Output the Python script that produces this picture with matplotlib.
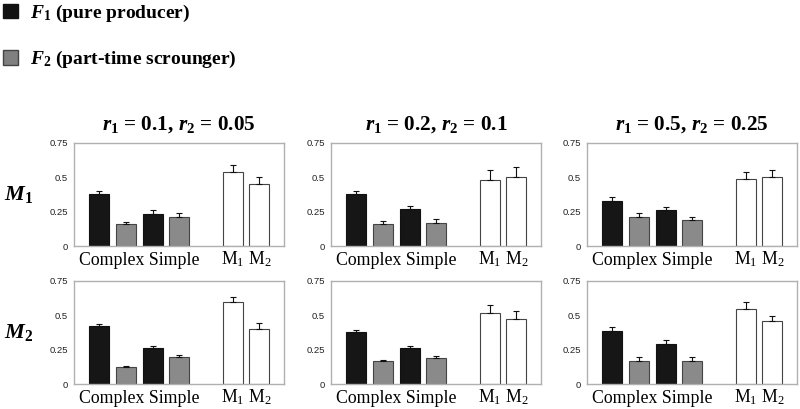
import matplotlib
matplotlib.use('Agg')
import matplotlib.pyplot as plt
from matplotlib.patches import Patch

# mathtext: letras en negrita cursiva, numeros en negrita (estilo del articulo)
plt.rcParams['mathtext.fontset'] = 'custom'
plt.rcParams['mathtext.it'] = 'Liberation Serif:italic:bold'
plt.rcParams['mathtext.rm'] = 'Liberation Serif:bold'
plt.rcParams['mathtext.bf'] = 'Liberation Serif:bold'

# columnas: valores de r1, r2
titulos = [r'$r_1$ = 0.1, $r_2$ = 0.05',
           r'$r_1$ = 0.2, $r_2$ = 0.1',
           r'$r_1$ = 0.5, $r_2$ = 0.25']
filas = [r'$M_1$', r'$M_2$']

# barras: F1 complex, F2 complex, F1 simple, F2 simple, M1, M2
posiciones = [1, 2, 3, 4, 6, 7]
colores = ['#161616', '#8a8a8a', '#161616', '#8a8a8a', 'white', 'white']
bordes = ['#111111', '#444444', '#111111', '#444444', '#444444', '#444444']

etiquetas_x = ['Complex Simple', r'$\mathregular{M_1\ M_2}$']
pos_etiquetas = [2.5, 6.5]

# fila M1 (medias y error estandar)
m1_medias = [[0.381, 0.160, 0.233, 0.214, 0.541, 0.454],
             [0.379, 0.158, 0.272, 0.170, 0.483, 0.505],
             [0.328, 0.214, 0.260, 0.187, 0.490, 0.505]]
m1_errores = [[0.022, 0.017, 0.027, 0.026, 0.051, 0.051],
              [0.024, 0.026, 0.022, 0.024, 0.068, 0.073],
              [0.031, 0.029, 0.026, 0.027, 0.051, 0.048]]

# fila M2
m2_medias = [[0.425, 0.121, 0.262, 0.194, 0.595, 0.403],
             [0.379, 0.165, 0.265, 0.192, 0.519, 0.476],
             [0.386, 0.167, 0.289, 0.167, 0.544, 0.461]]
m2_errores = [[0.014, 0.012, 0.012, 0.020, 0.041, 0.039],
              [0.014, 0.012, 0.012, 0.009, 0.059, 0.058],
              [0.027, 0.027, 0.029, 0.027, 0.056, 0.037]]

fig = plt.figure(figsize=(8, 4.09), dpi=100)

izquierdas = [74, 331, 587]
arriba = [143, 281]
ancho, alto = 210, 103

datos = [(m1_medias, m1_errores), (m2_medias, m2_errores)]

for i, (medias, errores) in enumerate(datos):
    for j in range(3):
        ax = fig.add_axes([izquierdas[j] / 800, 1 - (arriba[i] + alto) / 409,
                           ancho / 800, alto / 409])
        ax.bar(posiciones, medias[j], width=0.75, color=colores,
               edgecolor=bordes, linewidth=0.8,
               yerr=[[0] * 6, errores[j]], capsize=2.5,
               error_kw=dict(elinewidth=0.8, capthick=0.8, ecolor='#111111'))
        ax.set_xlim(0.05, 7.92)
        ax.set_ylim(0, 0.75)
        ax.set_yticks([0, 0.25, 0.5, 0.75])
        ax.set_yticklabels(['0', '0.25', '0.5', '0.75'],
                           fontfamily='Liberation Sans', fontsize=6.8, color='#222222')
        ax.set_xticks(pos_etiquetas)
        ax.set_xticklabels(etiquetas_x, fontfamily='Liberation Serif', fontsize=12.8,
                           va='baseline')
        ax.tick_params(length=0, pad=4.5)
        ax.tick_params(axis='x', pad=13.5)
        for s in ax.spines.values():
            s.set_color('#b0b0b0')
            s.set_linewidth(1.0)
        if i == 0:
            ax.set_title(titulos[j], fontfamily='Liberation Serif', fontweight='bold',
                         fontsize=15.3, pad=10)
    fig.text(4 / 800, 1 - (arriba[i] + alto / 2) / 409, filas[i],
             fontsize=16, ha='left', va='center')

# leyenda arriba a la izquierda
fig.legend(handles=[Patch(facecolor='#111111', edgecolor='#111111'),
                    Patch(facecolor='#808080', edgecolor='#444444')],
           labels=[r'$F_1$ (pure producer)', r'$F_2$ (part-time scrounger)'],
           loc='upper left', bbox_to_anchor=(0.0, 1.0), frameon=False,
           prop=dict(family='Liberation Serif', weight='bold', size=14),
           handlelength=0.75, handleheight=0.75, labelspacing=1.3,
           handletextpad=0.65, borderaxespad=0.0, borderpad=0.15)

plt.savefig('out.png', dpi=100)
